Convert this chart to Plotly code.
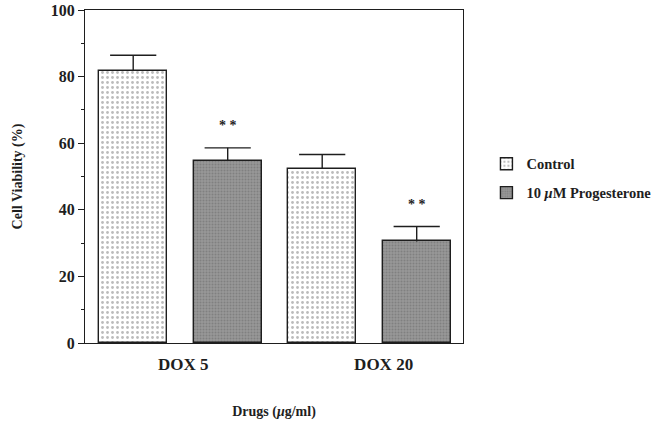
import plotly.graph_objects as go

groups = ["DOX 5", "DOX 20"]
control_vals = [81.7, 52.3]
control_err = [4.7, 4.3]
prog_vals = [54.8, 30.5]
prog_err = [3.8, 4.5]
control_x = [0, 2]
prog_x = [1, 3]
group_pos = [0.53, 2.65]
y_ticks = [0, 20, 40, 60, 80, 100]

FONT = "Liberation Serif"
INK = "#1e1e1e"

fig = go.Figure()
fig.add_trace(go.Bar(
    x=control_x, y=control_vals, name="Control", width=0.72,
    legendgroup="c",
    marker=dict(color="white", line=dict(color=INK, width=1.4),
                pattern=dict(shape=".", fgcolor="#777", bgcolor="white", size=5, solidity=0.25)),
))
fig.add_trace(go.Bar(
    x=prog_x, y=prog_vals, name="10 <i>μ</i>M Progesterone", width=0.72,
    legendgroup="p",
    marker=dict(color="#8e8e8e", line=dict(color=INK, width=1.4),
                pattern=dict(shape=".", fgcolor="#6a6a6a", bgcolor="#979797", size=3, solidity=0.35)),
))

# upward-only error bars: stem from bar top to top+err, cap drawn as marker
for xs, vals, errs in [(control_x, control_vals, control_err), (prog_x, prog_vals, prog_err)]:
    tops = [v + e for v, e in zip(vals, errs)]
    fig.add_trace(go.Scatter(
        x=xs, y=tops, mode="markers", showlegend=False, hoverinfo="skip",
        marker=dict(symbol="line-ew-open", size=33, color=INK, line=dict(color=INK, width=1.4)),
        error_y=dict(type="data", symmetric=False, array=[0] * len(errs), arrayminus=errs,
                     color=INK, thickness=1.4, width=0),
    ))

for xv, v, e in zip(prog_x, prog_vals, prog_err):
    fig.add_annotation(x=xv, y=v + e + 6.6, text="* *", showarrow=False,
                       font=dict(family=FONT, size=14, color=INK, weight="bold"),
                       yanchor="middle")

fig.update_layout(
    width=655, height=422,
    margin=dict(l=85, r=192, t=10, b=79, autoexpand=False),
    paper_bgcolor="white", plot_bgcolor="white",
    font=dict(family=FONT, color=INK),
    bargap=0,
    showlegend=True,
    legend=dict(x=1.062, y=0.586, xanchor="left", yanchor="top",
                font=dict(family=FONT, size=14.5, color=INK, weight="bold"),
                tracegroupgap=7, traceorder="grouped", bgcolor="rgba(0,0,0,0)"),
)
fig.update_xaxes(
    range=[-0.51, 3.49], tickvals=group_pos, ticktext=groups, ticks="",
    ticklabelstandoff=5,
    showline=True, mirror=True, linecolor=INK, linewidth=1.3,
    showgrid=False, zeroline=False, automargin=False,
    tickfont=dict(family=FONT, size=17, color=INK, weight="bold"),
    title=dict(text="Drugs (<i>μ</i>g/ml)", standoff=33,
               font=dict(family=FONT, size=14, color=INK, weight="bold")),
)
fig.update_yaxes(
    range=[0, 100], tickvals=y_ticks, ticks="outside", ticklen=6, tickwidth=1.3,
    tickcolor=INK,
    minor=dict(tickvals=[10, 30, 50, 70, 90], ticks="outside", ticklen=3, tickcolor=INK, tickwidth=1),
    showline=True, mirror=True, linecolor=INK, linewidth=1.3,
    showgrid=False, zeroline=False, automargin=False,
    tickfont=dict(family=FONT, size=16, color=INK, weight="bold"),
    title=dict(text="Cell Viability (%)", standoff=24,
               font=dict(family=FONT, size=14, color=INK, weight="bold")),
)

fig.write_html("out.html")
